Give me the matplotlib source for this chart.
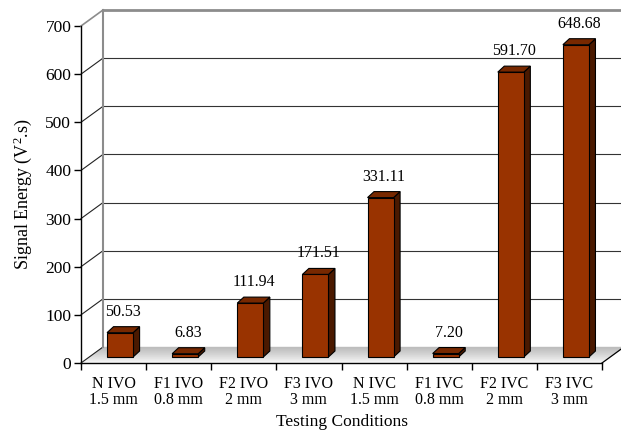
import numpy as np
import matplotlib
matplotlib.use("Agg")
import matplotlib.pyplot as plt
from matplotlib.patches import Polygon

plt.rcParams['font.family'] = ['Liberation Serif', 'DejaVu Serif']
plt.rcParams['mathtext.default'] = 'regular'

# Data
conditions = ["N IVO\n1.5 mm", "F1 IVO\n0.8 mm", "F2 IVO\n2 mm", "F3 IVO\n3 mm",
              "N IVC\n1.5 mm", "F1 IVC\n0.8 mm", "F2 IVC\n2 mm", "F3 IVC\n3 mm"]
energy = [50.53, 6.83, 111.94, 171.51, 331.11, 7.20, 591.70, 648.68]
y_ticks = [0, 100, 200, 300, 400, 500, 600, 700]

# Colours
FRONT = "#993300"
TOP = "#772800"
SIDE = "#4a1900"

fig = plt.figure(figsize=(6.21, 4.32), dpi=100)
W, H = 621, 432
ax = fig.add_axes([81 / W, (H - 363) / H, (602 - 81) / W, (363 - 26) / H])
n = len(energy)
ax.set_xlim(-0.5, n - 0.5)
ax.set_ylim(0, 700)
ax.set_facecolor("none")
fig.canvas.draw()


def shifted(x, y, dx_px, dy_px):
    """Move a data point by a screen offset given in pixels (up = positive)."""
    px, py = ax.transData.transform((x, y))
    return tuple(ax.transData.inverted().transform((px + dx_px, py + dy_px)))


WALL = (22, 16)        # depth of the floor / side wall
BAR_SHIFT = (6.5, 6)   # bar front face position inside the depth
BAR_DEPTH = (6.5, 6)   # bar thickness
BAR_W = 0.40

x0, x1 = -0.5, n - 0.5

# Floor with a soft gradient from back (grey) to front (white)
steps = 40
c_back = np.array([0.74, 0.74, 0.74])
c_front = np.array([1.0, 1.0, 1.0])
for k in range(steps):
    t0, t1 = k / steps, (k + 1) / steps
    col = c_front + (c_back - c_front) * ((t0 + t1) / 2) ** 0.8
    pts = [shifted(x0, 0, WALL[0] * t0, WALL[1] * t0),
           shifted(x1, 0, WALL[0] * t0, WALL[1] * t0),
           shifted(x1, 0, WALL[0] * t1, WALL[1] * t1),
           shifted(x0, 0, WALL[0] * t1, WALL[1] * t1)]
    ax.add_patch(Polygon(pts, closed=True, facecolor=col, edgecolor=col,
                         lw=0.3, clip_on=False, zorder=1))

# Floor right edge
fx, fy = zip(shifted(x1, 0, 0, 0), shifted(x1, 0, *WALL))
ax.plot(fx, fy, color="black", lw=0.9, clip_on=False, zorder=2)

# Back wall gridlines and side wall diagonals
right_end = x1 + 1.0
for v in y_ticks:
    top = v == y_ticks[-1]
    col = "#8c8c8c" if top else "#333333"
    lw = 2.0 if top else 0.8
    bx, by = shifted(x0, v, *WALL)
    ex, ey = shifted(right_end, v, *WALL)
    if v > 0:
        ax.plot([bx, ex], [by, ey], color=col, lw=lw, clip_on=False, zorder=2,
                solid_capstyle="butt")
    ax.plot([x0, bx], [v, by], color="#8c8c8c" if top else "#222222",
            lw=1.2 if top else 0.8, clip_on=False, zorder=2)

# Back wall left edge
bx0, by0 = shifted(x0, 0, *WALL)
bx1, by1 = shifted(x0, y_ticks[-1], *WALL)
ax.plot([bx0, bx1], [by0, by1], color="#8c8c8c", lw=1.5, clip_on=False, zorder=2)

# Bars
for i, v in enumerate(energy):
    l, r = i - BAR_W / 2, i + BAR_W / 2
    fl = shifted(l, 0, *BAR_SHIFT)
    fr = shifted(r, 0, *BAR_SHIFT)
    tl = shifted(l, v, *BAR_SHIFT)
    tr = shifted(r, v, *BAR_SHIFT)
    d = lambda p: shifted(p[0], p[1], *BAR_DEPTH)
    ax.add_patch(Polygon([fr, tr, d(tr), d(fr)], closed=True, facecolor=SIDE,
                         edgecolor="black", lw=0.8, zorder=3, clip_on=False))
    ax.add_patch(Polygon([tl, tr, d(tr), d(tl)], closed=True, facecolor=TOP,
                         edgecolor="black", lw=0.8, zorder=3, clip_on=False))
    ax.add_patch(Polygon([fl, fr, tr, tl], closed=True, facecolor=FRONT,
                         edgecolor="black", lw=0.8, zorder=4, clip_on=False))
    lx, ly = shifted(i, v, BAR_SHIFT[0] + BAR_DEPTH[0] / 2, BAR_SHIFT[1] + 21)
    ax.text(lx, ly, f"{v:.2f}", ha="center", va="center", fontsize=11.5,
            zorder=5)

# Axes: front spines, ticks and labels
for s in ("top", "right"):
    ax.spines[s].set_visible(False)
ax.spines["left"].set_linewidth(1.0)
ax.spines["bottom"].set_linewidth(1.0)
ax.spines["left"].set_zorder(6)
ax.spines["bottom"].set_zorder(6)
ax.set_yticks(y_ticks)
ax.tick_params(axis="y", direction="out", length=5, width=1.0, labelsize=12.5,
               pad=2)
ax.set_xticks(range(n))
ax.set_xticklabels(conditions, fontsize=11.5, linespacing=1.0)
ax.set_xticks(np.arange(-0.5, n, 1.0), minor=True)
ax.tick_params(axis="x", which="major", length=0, pad=9)
ax.tick_params(axis="x", which="minor", direction="out", length=5, width=1.0)

ax.set_xlabel("Testing Conditions", fontsize=12.5, labelpad=5)
ax.set_ylabel("Signal Energy (V$^{2}$.s)", fontsize=13, labelpad=8)

fig.savefig("out.png", dpi=100)
